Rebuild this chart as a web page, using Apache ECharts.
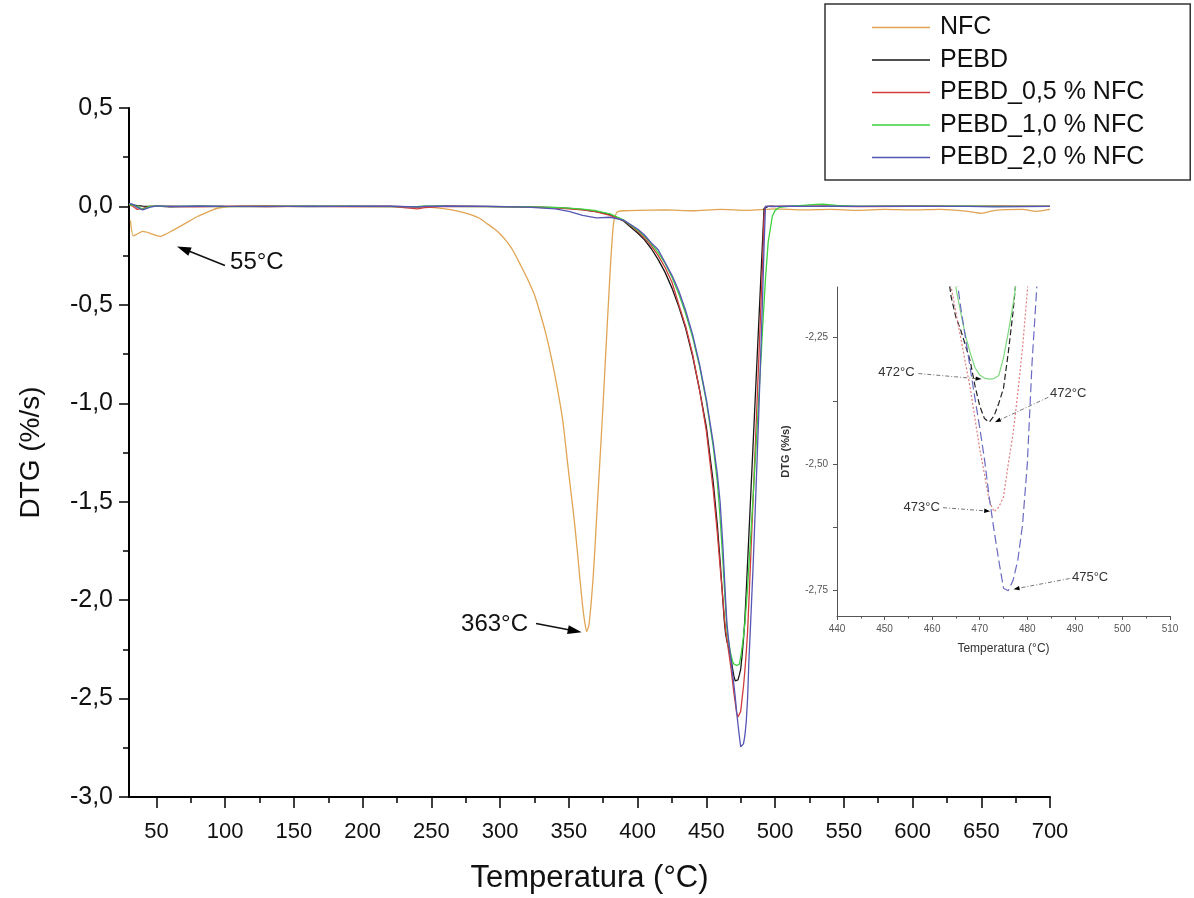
<!DOCTYPE html>
<html><head><meta charset="utf-8">
<script src="https://cdn.jsdelivr.net/npm/echarts@6/dist/echarts.min.js"></script>
<style>html,body{margin:0;padding:0;background:#fff}#c{width:1194px;height:898px}</style>
</head><body><div id="c"></div>
<script>
// ---------------- DATA ----------------
const seriesNames = ['NFC', 'PEBD', 'PEBD_0,5 % NFC', 'PEBD_1,0 % NFC', 'PEBD_2,0 % NFC'];
const xTickValues = [50,100,150,200,250,300,350,400,450,500,550,600,650,700];
const yTickValues = [0.5,0,-0.5,-1,-1.5,-2,-2.5,-3];
const insetXTicks = [440,450,460,470,480,490,500,510];
const insetYTicks = [-2.75,-2.5,-2.25];

const nfcTemp = [31,33,36,40,45,50,53,57,61,65,70,75,80,85,90,95,100,110,130,160,190,220,240,250,260,270,278,285,290,295,300,305,309,315,320,325,329,333,337,341,345.5,349,352,354,356,358,360,361.5,363,364.5,366,367.5,369,371,373,375,377,379,380.5,382,383,384.5,386,390,400,420,440,460,480,500,520,540,560,580,600,620,640,650,660,680,690,700];
const nfcDTG = [-0.07,-0.15,-0.14,-0.127,-0.135,-0.148,-0.152,-0.14,-0.125,-0.11,-0.09,-0.07,-0.05,-0.035,-0.02,-0.008,-0.003,0.0,-0.002,0.001,-0.001,0.0,-0.002,-0.005,-0.012,-0.025,-0.04,-0.06,-0.085,-0.11,-0.14,-0.18,-0.22,-0.3,-0.37,-0.45,-0.54,-0.64,-0.76,-0.9,-1.085,-1.3,-1.48,-1.6,-1.74,-1.89,-2.03,-2.11,-2.16,-2.13,-2.03,-1.9,-1.73,-1.48,-1.24,-0.99,-0.72,-0.46,-0.27,-0.12,-0.065,-0.035,-0.025,-0.022,-0.02,-0.018,-0.022,-0.015,-0.02,-0.012,-0.018,-0.015,-0.02,-0.015,-0.018,-0.015,-0.025,-0.035,-0.02,-0.015,-0.025,-0.015];

const pebdTemp = [
  30,33,36,40,45,50,60,80,100,130,
  160,190,220,240,245,260,290,320,340,350,
  360,370,380,390,400,405,410,415,420,425,
  430,435,440,445,450,455,458,460,462,463,
  464,465,466,467,468,469,470,471,472,473,
  474,475,476,477,478,479,480,481,482,484,
  486,488,490,491,492,493,495,498,500,503,
  510,530,535,545,560,600,640,660,700];
const pebdDTG = [
  0.012,0.008,0.004,0.002,0.0,0.002,-0.002,0.001,0.0,0.002,
  -0.001,0.001,0.0,-0.002,0.0,0.001,0.0,-0.002,-0.006,-0.01,
  -0.016,-0.026,-0.042,-0.075,-0.135,-0.17,-0.215,-0.27,-0.335,-0.415,
  -0.51,-0.62,-0.76,-0.93,-1.12,-1.4,-1.62,-1.8,-2.0,-2.1,
  -2.17,-2.21,-2.235,-2.265,-2.296,-2.345,-2.385,-2.41,-2.417,-2.405,
  -2.38,-2.35,-2.28,-2.2,-2.1,-1.96,-1.81,-1.66,-1.51,-1.21,
  -0.91,-0.61,-0.31,-0.16,-0.01,0.0,0.0,0.001,0.0,0.0,
  0.0,0.0,0.002,0.0,0.0,0.001,0.0,0.0,0.0];
const pebd05DTG = [
  0.01,0.0,-0.015,-0.01,0.0,0.0,0.001,-0.002,0.0,0.001,
  0.0,-0.001,0.0,-0.012,-0.006,0.0,-0.001,-0.003,-0.007,-0.012,
  -0.018,-0.028,-0.045,-0.072,-0.125,-0.16,-0.2,-0.25,-0.31,-0.385,
  -0.5,-0.61,-0.75,-0.93,-1.14,-1.44,-1.66,-1.83,-1.99,-2.08,
  -2.15,-2.2,-2.25,-2.3,-2.35,-2.41,-2.47,-2.52,-2.572,-2.594,
  -2.585,-2.565,-2.5,-2.44,-2.36,-2.27,-2.16,-2.0,-1.83,-1.49,
  -1.15,-0.8,-0.45,-0.27,-0.05,0.0,0.0,0.0,-0.001,0.0,
  0.0,0.001,0.0,0.0,-0.001,0.0,0.0,0.001,0.0];
const pebd10DTG = [
  0.01,0.005,0.0,-0.015,0.0,0.002,0.0,0.001,-0.001,0.0,
  0.001,0.0,-0.001,0.0,0.001,0.0,-0.001,-0.002,-0.005,-0.009,
  -0.014,-0.022,-0.038,-0.07,-0.12,-0.15,-0.19,-0.235,-0.29,-0.36,
  -0.445,-0.545,-0.665,-0.81,-0.99,-1.22,-1.4,-1.58,-1.8,-1.92,
  -2.04,-2.152,-2.2,-2.245,-2.28,-2.309,-2.324,-2.33,-2.332,-2.331,
  -2.325,-2.29,-2.24,-2.185,-2.12,-2.03,-1.93,-1.82,-1.71,-1.48,
  -1.24,-0.99,-0.74,-0.61,-0.49,-0.37,-0.18,-0.05,-0.02,-0.005,
  0.0,0.01,0.012,0.005,0.0,0.0,0.001,0.0,0.0];
const pebd20DTG = [
  0.015,0.01,-0.005,-0.018,-0.005,0.003,0.0,0.002,0.0,-0.001,
  0.002,0.0,0.001,-0.002,0.0,0.001,0.0,-0.004,-0.012,-0.025,
  -0.045,-0.058,-0.055,-0.07,-0.115,-0.145,-0.185,-0.22,-0.285,-0.35,
  -0.43,-0.53,-0.65,-0.8,-0.98,-1.2,-1.36,-1.5,-1.72,-1.86,
  -2.0,-2.12,-2.19,-2.25,-2.31,-2.37,-2.428,-2.49,-2.565,-2.63,
  -2.69,-2.745,-2.75,-2.73,-2.69,-2.62,-2.5,-2.3,-2.15,-1.83,
  -1.46,-1.08,-0.66,-0.44,-0.2,0.0,0.0,-0.001,0.0,0.0,
  0.001,0.0,0.0,0.002,0.0,0.0,0.0,-0.002,0.0];

// annotations (data coordinates)
const notes = [
  {grid:0, text:'55°C', at:[103.5,-0.283], align:'left', from:[99.8,-0.30], to:[64.9,-0.203]},
  {grid:0, text:'363°C', at:[320.3,-2.124], align:'right', from:[326.1,-2.119], to:[359.3,-2.163]},
  {grid:1, text:'472°C', at:[452.5,-2.319], align:'center', from:[457.1,-2.321], to:[470.4,-2.332]},
  {grid:1, text:'472°C', at:[488.6,-2.36], align:'center', from:[484.4,-2.368], to:[473.2,-2.417]},
  {grid:1, text:'473°C', at:[457.8,-2.586], align:'center', from:[462.3,-2.586], to:[472.2,-2.593]},
  {grid:1, text:'475°C', at:[493.2,-2.724], align:'center', from:[488.9,-2.726], to:[477.1,-2.747]}
];

// ---------------- CHART ----------------
const FONT = '"Liberation Sans", Arial, Helvetica, sans-serif';
const colors = ['#E0A453', '#151515', '#D23C3C', '#3DD23D', '#5555B5'];
const insetColors = ['#E0A453', '#222222', '#E07C7C', '#7FD87F', '#6A6AC0'];
const insetDash = ['solid', [6,3], [2,2], 'solid', [9,4]];
const zip = (t, v) => t.map((x, i) => [x, v[i]]);
const valueSets = [zip(nfcTemp, nfcDTG), zip(pebdTemp, pebdDTG), zip(pebdTemp, pebd05DTG), zip(pebdTemp, pebd10DTG), zip(pebdTemp, pebd20DTG)];
const comma = (v, d) => v.toFixed(d).replace('-0.00','0.00').replace('.', ',');

const series = [];
valueSets.forEach((data, i) => {
  series.push({
    type:'line', name: seriesNames[i], xAxisIndex:0, yAxisIndex:0, data,
    symbol:'none', showSymbol:false, smooth: i === 0 ? 0.2 : false, clip:true,
    lineStyle:{width:1.3, color: colors[i]}, itemStyle:{color: colors[i]}, z: 2 + i
  });
});
valueSets.forEach((data, i) => {
  if (i === 0) return;
  series.push({
    type:'line', name: seriesNames[i], xAxisIndex:2, yAxisIndex:1, data,
    symbol:'none', showSymbol:false, smooth:false, clip:true,
    lineStyle:{width:1.2, color: insetColors[i], type: insetDash[i]}, itemStyle:{color: colors[i]}, z: 2 + i
  });
});

const minorX = [];
for (let v = 75; v < 700; v += 50) minorX.push(v);

const option = {
  animation:false,
  backgroundColor:'#fff',
  textStyle:{fontFamily: FONT},
  legend:{
    data: seriesNames, orient:'vertical', left:825, top:4,
    icon:'rect', itemWidth:58, itemHeight:1.5, itemGap:7.5,
    padding:[11, 46, 10, 47],
    borderColor:'#333', borderWidth:1.5, backgroundColor:'#fff',
    textStyle:{fontSize:25, color:'#111', fontFamily: FONT, padding:[0,0,0,5]},
    selectedMode:false
  },
  grid:[
    {left:129, right:144, top:108, bottom:101, outerBoundsMode:'none', containLabel:false},
    {left:837, top:287, width:333, height:329, outerBoundsMode:'none', containLabel:false}
  ],
  xAxis:[
    {type:'value', gridIndex:0, min:30, max:700, position:'bottom',
     name:'Temperatura (°C)', nameLocation:'middle', nameGap:66,
     nameTextStyle:{fontSize:31, color:'#111', fontFamily: FONT},
     axisLine:{show:true, onZero:false, lineStyle:{color:'#000', width:2}},
     axisTick:{show:true, customValues: xTickValues, length:11, lineStyle:{color:'#000', width:1.5}},
     axisLabel:{customValues: xTickValues, fontSize:22, color:'#111', margin:24, fontFamily: FONT},
     splitLine:{show:false}},
    {type:'value', gridIndex:0, min:30, max:700, position:'bottom',
     axisLine:{show:false, onZero:false},
     axisTick:{show:true, customValues: minorX, length:6, lineStyle:{color:'#000', width:1.5}},
     axisLabel:{show:false}, splitLine:{show:false}},
    {type:'value', gridIndex:1, min:440, max:510, interval:10, position:'bottom',
     name:'Temperatura (°C)', nameLocation:'middle', nameGap:27,
     nameTextStyle:{fontSize:12, color:'#333', fontFamily: FONT},
     axisLine:{onZero:false, lineStyle:{color:'#555', width:1}},
     axisTick:{length:4, lineStyle:{color:'#555'}},
     minorTick:{show:true, splitNumber:2, length:2.5, lineStyle:{color:'#555'}},
     axisLabel:{fontSize:10, color:'#555', margin:8, fontFamily: FONT},
     splitLine:{show:false}}
  ],
  yAxis:[
    {type:'value', gridIndex:0, min:-3, max:0.5, interval:0.5,
     name:'DTG (%/s)', nameLocation:'middle', nameGap:84, nameRotate:90,
     nameTextStyle:{fontSize:28, color:'#111', fontFamily: FONT},
     axisLine:{show:true, onZero:false, lineStyle:{color:'#000', width:2}},
     axisTick:{length:10, lineStyle:{color:'#000', width:1.5}},
     minorTick:{show:true, splitNumber:2, length:6, lineStyle:{color:'#000', width:1.5}},
     axisLabel:{fontSize:25, color:'#111', margin:16, fontFamily: FONT, formatter: v => comma(v,1)},
     splitLine:{show:false}},
    {type:'value', gridIndex:1, min:-2.8, max:-2.15,
     name:'DTG (%/s)', nameLocation:'middle', nameGap:46, nameRotate:90,
     nameTextStyle:{fontSize:11, fontWeight:'bold', color:'#333', fontFamily: FONT},
     axisLine:{show:true, onZero:false, lineStyle:{color:'#555', width:1}},
     axisTick:{customValues:[-2.75,-2.625,-2.5,-2.375,-2.25], length:4, lineStyle:{color:'#555'}},
     axisLabel:{customValues: insetYTicks, fontSize:10, color:'#555', margin:9, fontFamily: FONT, formatter: v => comma(v,2)},
     splitLine:{show:false}}
  ],
  series
};

const chart = echarts.init(document.getElementById('c'), null, {renderer:'canvas'});
chart.setOption(option);

// annotation graphics
const g = [];
notes.forEach(n => {
  const P = p => chart.convertToPixel({gridIndex: n.grid}, p);
  const a = P(n.from), b = P(n.to), t = P(n.at);
  const main = n.grid === 0;
  const dx = b[0]-a[0], dy = b[1]-a[1], L = Math.hypot(dx, dy);
  const ux = dx/L, uy = dy/L;
  const hl = main ? 14 : 6, hw = main ? 4.5 : 2.2;
  const bx = b[0]-ux*hl, by = b[1]-uy*hl;
  g.push({type:'line', silent:true, z:50, shape:{x1:a[0], y1:a[1], x2:bx+ux*2, y2:by+uy*2},
    style:{stroke: main ? '#111' : '#777', lineWidth: main ? 1.6 : 1, lineDash: main ? null : [4,2,1,2]}});
  g.push({type:'polygon', silent:true, z:51, shape:{points:[[b[0],b[1]],[bx-uy*hw, by+ux*hw],[bx+uy*hw, by-ux*hw]]},
    style:{fill:'#000'}});
  g.push({type:'text', silent:true, z:52, x:t[0], y:t[1],
    style:{text:n.text, fontSize: main ? 24 : 13, fontFamily: FONT, fill: main ? '#111' : '#333',
      align:n.align, verticalAlign:'middle'}});
});
chart.setOption({graphic: g});
</script>
</body></html>
